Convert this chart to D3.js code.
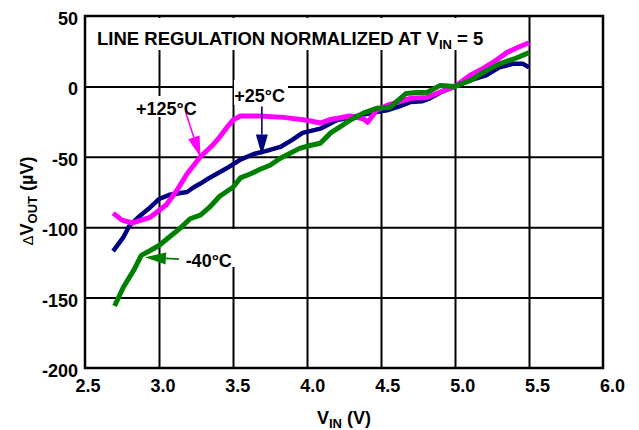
<!DOCTYPE html>
<html><head><meta charset="utf-8">
<script src="https://cdn.jsdelivr.net/npm/d3@7"></script>
<style>
body{margin:0;background:#fff}
svg{display:block}
text{font-family:Arial,"Liberation Sans",Helvetica,sans-serif;font-weight:bold;fill:#000}
</style>
</head><body>
<svg id="chart" width="639" height="430"></svg>
<script>
// ---- data ----
const xTicks = [2.5, 3.0, 3.5, 4.0, 4.5, 5.0, 5.5, 6.0];
const xTickLabels = ["2.5", "3.0", "3.5", "4.0", "4.5", "5.0", "5.5", "6.0"];
const yTicks = [50, 0, -50, -100, -150, -200];
const yTickLabels = ["50", "0", "-50", "-100", "-150", "-200"];

const seriesNames = ["+25°C", "+125°C", "-40°C"];
const seriesColors = ["#000080", "#FF00FF", "#008000"];

const vin25 = [2.69,2.76,2.80,2.87,2.94,3.00,3.07,3.19,3.23,3.28,3.34,3.46,3.55,3.64,3.72,3.82,3.90,3.97,4.09,4.20,4.29,4.45,4.54,4.63,4.70,4.78,4.83,4.90,5.00,5.10,5.21,5.30,5.39,5.46,5.50];
const dv25  = [-117,-107,-99,-92,-86,-80,-77,-75,-72,-69,-65,-58,-52,-48,-46,-43,-38,-33,-30,-24,-22,-18.5,-17,-14,-11,-10.5,-8.5,-4.3,0,4.3,7.8,13.5,16,16,13.5];

const vin125 = [2.69,2.75,2.82,2.94,3.05,3.12,3.19,3.28,3.36,3.41,3.46,3.50,3.55,3.68,3.84,4.00,4.09,4.16,4.29,4.38,4.41,4.47,4.54,4.63,4.70,4.81,4.90,5.00,5.10,5.19,5.27,5.35,5.43,5.50];
const dv125  = [-90,-95,-97,-93,-84,-74,-62,-50,-42,-36,-29,-24,-21,-21,-22,-24,-26,-23.5,-21,-23,-25.5,-17,-13.5,-10.6,-8.5,-7.8,-4,0,7.8,12.8,18,24,28,31];

const vinM40 = [2.70,2.76,2.83,2.88,2.95,3.00,3.07,3.14,3.21,3.28,3.34,3.41,3.50,3.55,3.62,3.68,3.75,3.82,3.95,4.02,4.09,4.16,4.22,4.29,4.38,4.47,4.56,4.60,4.67,4.74,4.81,4.90,5.00,5.10,5.21,5.30,5.41,5.50];
const dvM40  = [-156,-142.5,-130.5,-120,-116,-113,-107,-101,-94,-91.5,-86,-78,-71.6,-65,-62,-59,-56,-51,-44,-42,-40.4,-33,-29,-24,-19,-15.6,-15,-11.3,-5,-4.3,-4.3,0.7,0,4,11,16,20,24];

const titleMain = "LINE REGULATION NORMALIZED AT V";
const titleSub = "IN";
const titleEnd = " = 5";

// annotations in data units: label anchor, arrow start, arrow tip
const annLabels = ["+25°C", "+125°C", "-40°C"];
const annTextV  = [3.68, 3.05, 3.18];
const annTextDV = [-11.4, -20.6, -128.5];
const annFromV  = [3.695, 3.18, 3.135];
const annFromDV = [-14.2, -18.4, -122.7];
const annTipV   = [3.695, 3.28, 2.905];
const annTipDV  = [-49, -50.4, -121.3];

// ---- layout ----
const svg = d3.select("#chart");
const x = d3.scaleLinear().domain([2.5, 6]).range([85, 603]);
const y = d3.scaleLinear().domain([-200, 50]).range([368, 16]);
const xLab = d3.scaleLinear().domain([2.5, 6]).range([87.5, 612]);

// grid
const gx = svg.append("g").attr("transform", `translate(0,${y(-200)})`)
  .call(d3.axisBottom(x).tickValues(xTicks.slice(1, -1)).tickSize(-(y(-200) - y(50))).tickFormat(""));
const gy = svg.append("g").attr("transform", `translate(${x(2.5)},0)`)
  .call(d3.axisLeft(y).tickValues(yTicks.slice(1, -1)).tickSize(-(x(6) - x(2.5))).tickFormat(""));
[gx, gy].forEach(g => {
  g.select(".domain").remove();
  g.selectAll("line").attr("stroke", "#000").attr("stroke-width", 2);
});

// tick labels
const lx = svg.append("g").attr("transform", `translate(0,${y(-200)})`)
  .call(d3.axisBottom(xLab).tickValues(xTicks).tickSize(0).tickPadding(0).tickFormat((d, i) => xTickLabels[i]));
lx.select(".domain").remove();
lx.selectAll("text").attr("dy", null).attr("y", 24).attr("font-size", 18)
  .attr("font-family", "Arial, 'Liberation Sans', sans-serif").attr("font-weight", "bold").attr("fill", "#000");

const ly = svg.append("g").attr("transform", `translate(78,0)`)
  .call(d3.axisLeft(y).tickValues(yTicks).tickSize(0).tickPadding(0).tickFormat((d, i) => yTickLabels[i]));
ly.select(".domain").remove();
ly.selectAll("text").attr("dy", null).attr("y", 8.5).attr("font-size", 18)
  .attr("font-family", "Arial, 'Liberation Sans', sans-serif").attr("font-weight", "bold").attr("fill", "#000");

// white label backgrounds
svg.append("rect").attr("x", 90).attr("y", 18).attr("width", 402).attr("height", 32).attr("fill", "#fff");
svg.append("rect").attr("x", 234).attr("y", 80).attr("width", 54).attr("height", 25).attr("fill", "#fff");
svg.append("rect").attr("x", 132).attr("y", 96).attr("width", 68).attr("height", 21).attr("fill", "#fff");
svg.append("rect").attr("x", 183).attr("y", 229).attr("width", 55).attr("height", 38).attr("fill", "#fff");

// frame
svg.append("rect").attr("x", x(2.5)).attr("y", y(50))
  .attr("width", x(6) - x(2.5)).attr("height", y(-200) - y(50))
  .attr("fill", "none").attr("stroke", "#000").attr("stroke-width", 2.5);

// curves
const line = d3.line().x(d => x(d[0])).y(d => y(d[1]));
const seriesData = [
  d3.zip(vin25, dv25),
  d3.zip(vin125, dv125),
  d3.zip(vinM40, dvM40)
];
const widths = [4.5, 5, 5];
seriesData.forEach((s, i) => {
  svg.append("path").datum(s).attr("d", line)
    .attr("fill", "none").attr("stroke", seriesColors[i]).attr("stroke-width", widths[i])
    .attr("stroke-linejoin", "round").attr("stroke-linecap", "butt")
    .attr("class", "series").attr("data-name", seriesNames[i]);
});

// annotations
const annColors = [seriesColors[0], seriesColors[1], seriesColors[2]];
const annAnchor = ["middle", "middle", "start"];
annLabels.forEach((t, i) => {
  const fx = x(annFromV[i]), fy = y(annFromDV[i]);
  const tx = x(annTipV[i]), ty = y(annTipDV[i]);
  const dx = tx - fx, dy = ty - fy, len = Math.hypot(dx, dy);
  const ux = dx / len, uy = dy / len;
  const hl = 21, hw = 6;
  const bx = tx - ux * hl, by = ty - uy * hl;
  svg.append("line").attr("x1", fx).attr("y1", fy).attr("x2", bx).attr("y2", by)
    .attr("stroke", annColors[i]).attr("stroke-width", 1.6);
  svg.append("path")
    .attr("d", `M${tx},${ty}L${bx - uy * hw},${by + ux * hw}L${bx + uy * hw},${by - ux * hw}Z`)
    .attr("fill", annColors[i]);
  svg.append("text").attr("x", x(annTextV[i])).attr("y", y(annTextDV[i]))
    .attr("text-anchor", annAnchor[i]).attr("font-size", 18).text(t);
});

// title
const tt = svg.append("text").attr("x", 97).attr("y", 45).attr("font-size", 18.5);
tt.append("tspan").text(titleMain);
tt.append("tspan").attr("font-size", 13).attr("dy", 4).text(titleSub);
tt.append("tspan").attr("dy", -4).text(titleEnd);

// x axis title
const xt = svg.append("text").attr("x", 344).attr("y", 424).attr("text-anchor", "middle").attr("font-size", 18);
xt.append("tspan").text("V");
xt.append("tspan").attr("font-size", 13).attr("dy", 4).text("IN");
xt.append("tspan").attr("dy", -4).text(" (V)");

// y axis title
const yt = svg.append("text").attr("transform", "translate(33,201) rotate(-90)")
  .attr("text-anchor", "middle").attr("font-size", 18);
yt.append("tspan").attr("font-weight", "normal").attr("font-size", 15).text("Δ");
yt.append("tspan").text("V");
yt.append("tspan").attr("font-size", 13).attr("dy", 4).text("OUT");
yt.append("tspan").attr("dy", -4).text(" (µV)");
</script>
</body></html>
